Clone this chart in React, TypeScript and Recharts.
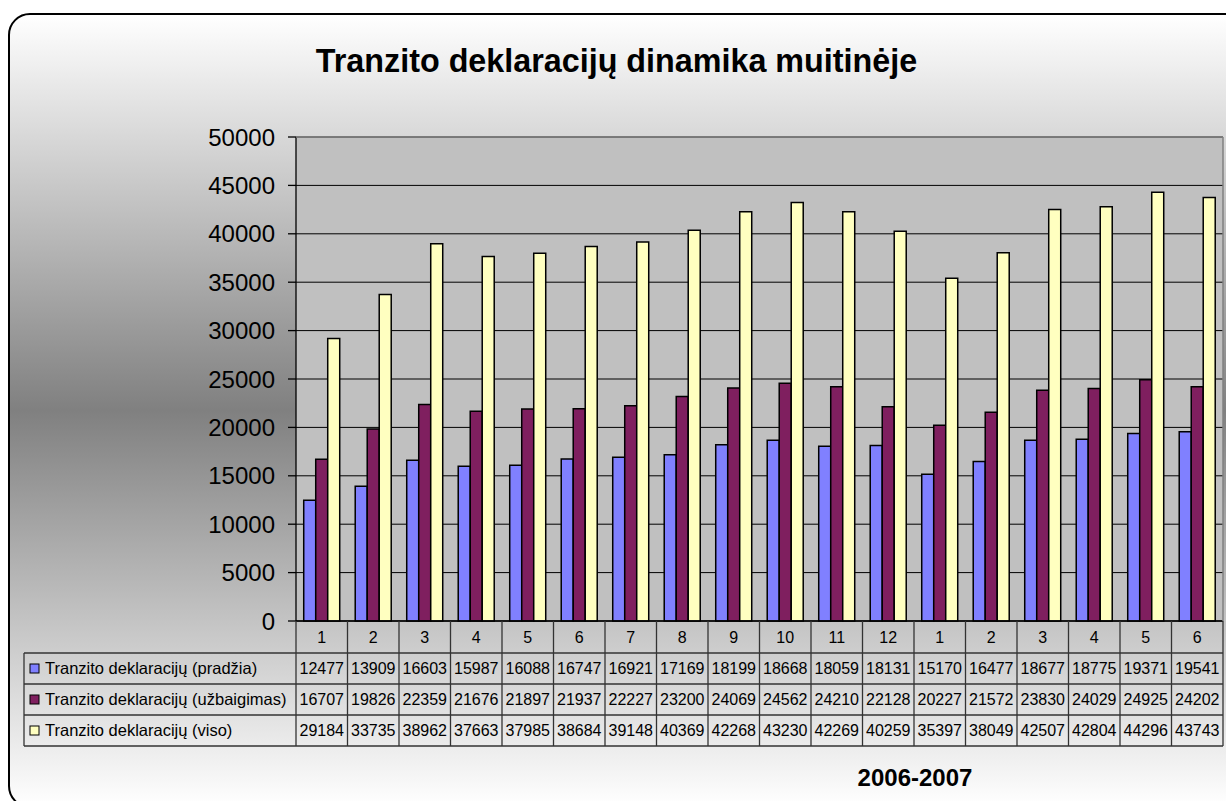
import { BarChart, Bar, XAxis, YAxis, CartesianGrid } from 'recharts'

const months = ['1', '2', '3', '4', '5', '6', '7', '8', '9', '10', '11', '12', '1', '2', '3', '4', '5', '6']
const pradzia = [12477, 13909, 16603, 15987, 16088, 16747, 16921, 17169, 18199, 18668, 18059, 18131, 15170, 16477, 18677, 18775, 19371, 19541]
const uzbaigimas = [16707, 19826, 22359, 21676, 21897, 21937, 22227, 23200, 24069, 24562, 24210, 22128, 20227, 21572, 23830, 24029, 24925, 24202]
const viso = [29184, 33735, 38962, 37663, 37985, 38684, 39148, 40369, 42268, 43230, 42269, 40259, 35397, 38049, 42507, 42804, 44296, 43743]
const yTicks = [0, 5000, 10000, 15000, 20000, 25000, 30000, 35000, 40000, 45000, 50000]

const series = [
  { key: 'pradzia', name: 'Tranzito deklaracijų (pradžia)', color: '#8080FF', values: pradzia },
  { key: 'uzbaigimas', name: 'Tranzito deklaracijų (užbaigimas)', color: '#7F1F5F', values: uzbaigimas },
  { key: 'viso', name: 'Tranzito deklaracijų (viso)', color: '#FFFFC0', values: viso },
]

const data = months.map((m, i) => ({
  month: m,
  pradzia: pradzia[i],
  uzbaigimas: uzbaigimas[i],
  viso: viso[i],
}))

const W = 1226
const H = 801
const MARGIN = { top: 137, right: 3, left: 196, bottom: 55 }
const Y_W = 100
const PLOT_W = W - MARGIN.left - Y_W - MARGIN.right
const PLOT_H = H - MARGIN.top - MARGIN.bottom - 125
const BAND = PLOT_W / months.length
const HEAD_H = 32
const ROW_H = 31
const TABLE_LEFT = 24
const FONT = 'Arial, "Liberation Sans", sans-serif'
const LINE = '#333'

// data table drawn under the x axis, one column per tick
// eslint-disable-next-line @typescript-eslint/no-explicit-any
const TableTick = (props: any) => {
  const { x, y, payload, index } = props
  const left = x - BAND / 2
  const right = x + BAND / 2
  const bottom = y + HEAD_H + ROW_H * series.length
  const plotRight = left + BAND * months.length
  return (
    <g>
      {index === 0 && (
        <g>
          <line x1={plotRight} y1={y - PLOT_H} x2={plotRight} y2={y} stroke="#808080" strokeWidth={1.5} />
          <line x1={left} y1={y - PLOT_H} x2={plotRight} y2={y - PLOT_H} stroke="#808080" strokeWidth={1.5} />
          <line x1={left} y1={y} x2={left} y2={bottom} stroke={LINE} strokeWidth={1.3} />
          <line x1={TABLE_LEFT} y1={y + HEAD_H} x2={TABLE_LEFT} y2={bottom} stroke={LINE} strokeWidth={1.3} />
          {[0, 1, 2, 3].map((r) => (
            <line
              key={r}
              x1={TABLE_LEFT}
              y1={y + HEAD_H + ROW_H * r}
              x2={plotRight}
              y2={y + HEAD_H + ROW_H * r}
              stroke={LINE}
              strokeWidth={1.3}
            />
          ))}
          {series.map((s, r) => {
            const cy = y + HEAD_H + ROW_H * r + ROW_H / 2
            return (
              <g key={s.key}>
                <rect x={30} y={cy - 4.5} width={9} height={9} fill={s.color} stroke="#000" strokeWidth={1} />
                <text x={45} y={cy} dy="0.36em" fontSize={16.5} fontFamily={FONT} fill="#000">
                  {s.name}
                </text>
              </g>
            )
          })}
        </g>
      )}
      <line x1={right} y1={y} x2={right} y2={bottom} stroke={LINE} strokeWidth={1.3} />
      <text x={x} y={y + HEAD_H / 2} dy="0.36em" textAnchor="middle" fontSize={16} fontFamily={FONT} fill="#000">
        {payload.value}
      </text>
      {series.map((s, r) => (
        <text
          key={s.key}
          x={x}
          y={y + HEAD_H + ROW_H * r + ROW_H / 2}
          dy="0.36em"
          textAnchor="middle"
          fontSize={16}
          fontFamily={FONT}
          fill="#000"
        >
          {s.values[index]}
        </text>
      ))}
    </g>
  )
}

export default function App() {
  return (
    <div style={{ position: 'absolute', left: 0, top: 0, width: W, height: H, overflow: 'hidden' }}>
      <div
        style={{
          position: 'absolute',
          left: 8,
          top: 13,
          width: 1240,
          height: 795,
          boxSizing: 'border-box',
          border: '2.5px solid #000',
          borderRadius: 22,
          background: 'linear-gradient(to bottom, #ffffff 0%, #808080 50%, #ffffff 100%)',
        }}
      />
      <div
        style={{
          position: 'absolute',
          left: 0,
          top: 45,
          width: 1233,
          textAlign: 'center',
          fontFamily: FONT,
          fontWeight: 'bold',
          fontSize: 32.3,
          lineHeight: '32px',
          color: '#000',
        }}
      >
        Tranzito deklaracijų dinamika muitinėje
      </div>
      <div
        style={{
          position: 'absolute',
          left: 815,
          top: 766,
          width: 200,
          textAlign: 'center',
          fontFamily: FONT,
          fontWeight: 'bold',
          fontSize: 24,
          lineHeight: '24px',
          color: '#000',
        }}
      >
        2006-2007
      </div>
      <div style={{ position: 'absolute', left: 0, top: 0 }}>
        <BarChart width={W} height={H} data={data} margin={MARGIN} barCategoryGap="15%" barGap={0}>
          <CartesianGrid vertical={false} fill="#C0C0C0" fillOpacity={1} stroke="#000" strokeWidth={1} />
          <XAxis
            dataKey="month"
            height={125}
            interval={0}
            tickLine={false}
            tickSize={0}
            tickMargin={0}
            axisLine={{ stroke: '#000', strokeWidth: 1.3 }}
            tick={<TableTick />}
          />
          <YAxis
            width={Y_W}
            domain={[0, 50000]}
            ticks={yTicks}
            interval={0}
            tickSize={8}
            tickMargin={13}
            axisLine={{ stroke: '#000', strokeWidth: 1.3 }}
            tickLine={{ stroke: '#000', strokeWidth: 1.3 }}
            tick={{ fontSize: 24, fontFamily: FONT, fill: '#000' }}
          />
          {series.map((s) => (
            <Bar
              key={s.key}
              dataKey={s.key}
              name={s.name}
              fill={s.color}
              stroke="#000"
              strokeWidth={1.5}
              isAnimationActive={false}
            />
          ))}
        </BarChart>
      </div>
    </div>
  )
}
